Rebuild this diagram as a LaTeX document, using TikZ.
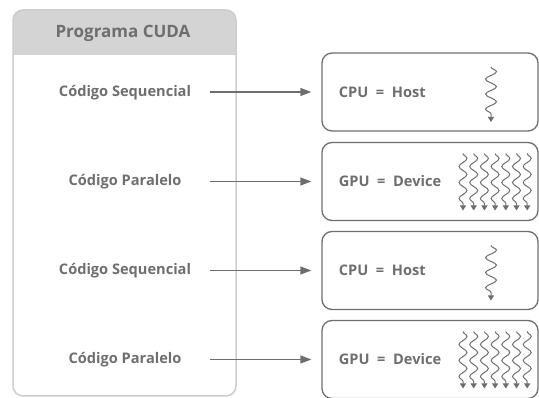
\documentclass[tikz,border=0pt]{standalone}
\usepackage{fontspec}
\setmainfont{Open Sans}
\usetikzlibrary{positioning,calc,decorations.pathmorphing,arrows.meta}
\definecolor{txtgray}{HTML}{6E6E6E}
\definecolor{boxgray}{HTML}{6E6E6E}
\definecolor{hdrgray}{HTML}{D4D4D4}
\definecolor{framegray}{HTML}{CDCDCD}

\begin{document}
\begin{tikzpicture}[x=1pt,y=-1pt,
	lbl/.style={font=\bfseries\fontsize{14.6}{17}\selectfont,text=txtgray},
	codelbl/.style={lbl,minimum width=170pt},
	unit/.style={draw=boxgray,line width=1.3pt,rounded corners=10pt,minimum width=216pt,minimum height=78pt},
	flow/.style={draw=boxgray,line width=1.3pt,shorten >=10pt,-{Triangle[length=11pt,width=8pt]}},
	thread/.style={draw=boxgray,line width=1pt,decorate,decoration={snake,amplitude=4pt,segment length=16pt,post length=6pt},-{Triangle[length=5pt,width=6pt]}}]
	\useasboundingbox (0,0) rectangle (539,398);
	% program frame
	\fill[hdrgray,rounded corners=10pt] (13,10) rectangle (236,55);
	\fill[hdrgray] (13,30) rectangle (236,55);
	\draw[framegray,line width=1.5pt,rounded corners=10pt] (13,10) rectangle (236,396);
	\node[lbl,font=\bfseries\fontsize{17}{19}\selectfont] (prog) at (123,33) {Programa CUDA};
	% code parts
	\node[codelbl] (seq1) at (125,93) {Código Sequencial};
	\node[codelbl] (par1) at (125,182) {Código Paralelo};
	\node[codelbl] (seq2) at (125,271) {Código Sequencial};
	\node[codelbl] (par2) at (125,360) {Código Paralelo};
	% processors
	\node[unit] (cpu1) at (430,92) {};
	\node[unit] (gpu1) at (430,181.5) {};
	\node[unit] (cpu2) at (430,270.5) {};
	\node[unit] (gpu2) at (430,359.5) {};
	\node[lbl,anchor=west] (cpu1txt) at ([xshift=14pt]cpu1.west) {CPU\ \ =\ \ Host};
	\node[lbl,anchor=west] (gpu1txt) at ([xshift=14pt]gpu1.west) {GPU\ \ =\ \ Device};
	\node[lbl,anchor=west] (cpu2txt) at ([xshift=14pt]cpu2.west) {CPU\ \ =\ \ Host};
	\node[lbl,anchor=west] (gpu2txt) at ([xshift=14pt]gpu2.west) {GPU\ \ =\ \ Device};
	\draw[flow] (seq1.east |- cpu1) -- (cpu1);
	\draw[flow] (par1.east |- gpu1) -- (gpu1);
	\draw[flow] (seq2.east |- cpu2) -- (cpu2);
	\draw[flow] (par2.east |- gpu2) -- (gpu2);
	% threads
	\foreach \c in {cpu1,cpu2}
		\draw[thread,decoration={amplitude=5.5pt,segment length=15pt}] ($(\c.center)+(61,-25)$) -- ($(\c.center)+(61,30)$);
	\foreach \g in {gpu1,gpu2}
		\foreach \i in {0,...,6}
			\draw[thread] ($(\g.center)+(33+10.7*\i,-28)$) -- ($(\g.center)+(33+10.7*\i,29)$);
\end{tikzpicture}
\end{document}
